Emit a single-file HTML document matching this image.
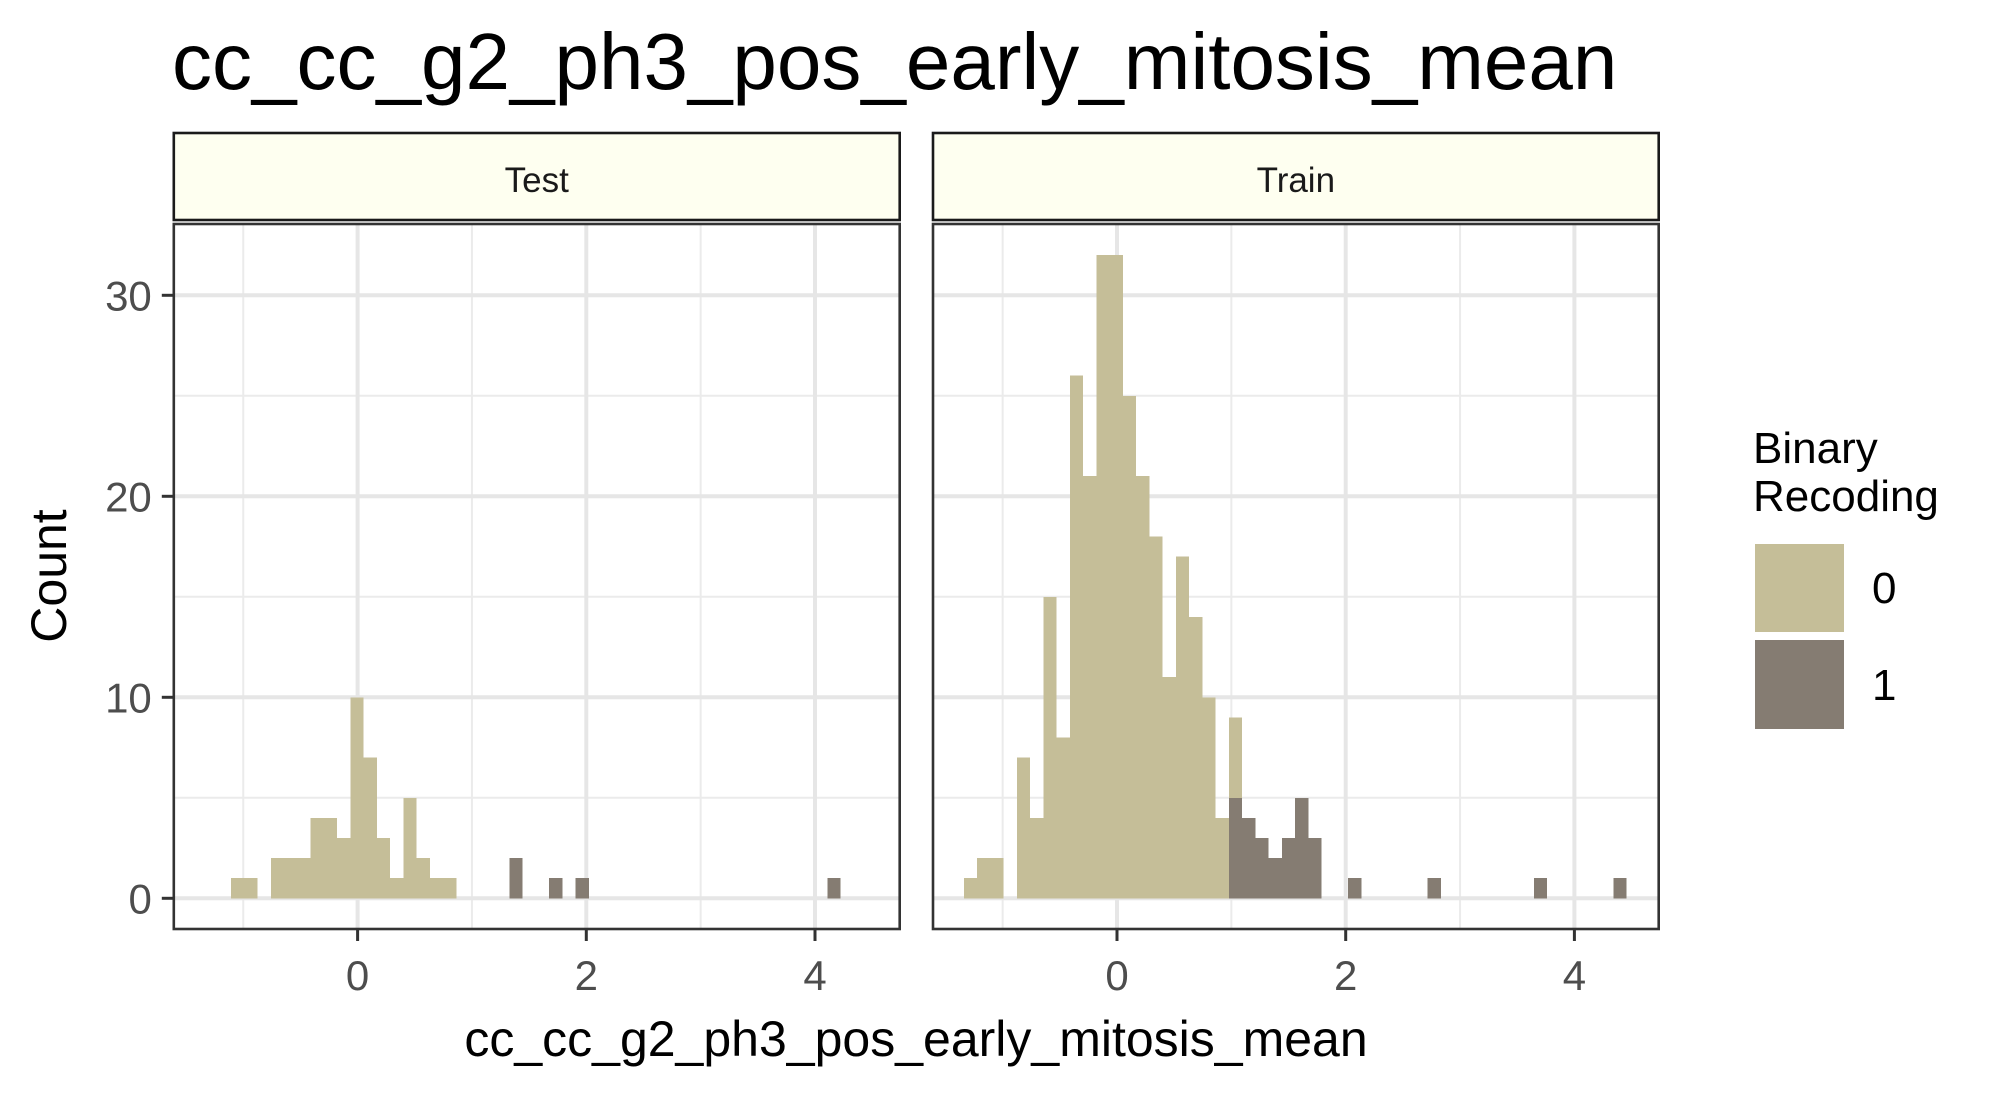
<!DOCTYPE html>
<html><head><meta charset="utf-8"><style>
html,body{margin:0;padding:0;background:#fff;}
svg{display:block;font-family:"Liberation Sans",Arial,sans-serif;}
</style></head><body>
<svg id="chart" width="2000" height="1100" viewBox="0 0 2000 1100" xmlns="http://www.w3.org/2000/svg">
<text x="172" y="89" font-size="80" fill="#000">cc_cc_g2_ph3_pos_early_mitosis_mean</text>
<g id="panels"></g>
<text x="916" y="1056" font-size="50" text-anchor="middle" fill="#000">cc_cc_g2_ph3_pos_early_mitosis_mean</text>
<text transform="translate(66,576) rotate(-90)" font-size="50" text-anchor="middle" fill="#000">Count</text>
<g>
<text x="1753" y="463" font-size="44" fill="#000">Binary</text>
<text x="1753" y="511" font-size="44" fill="#000">Recoding</text>
<rect x="1755" y="544" width="89" height="88" fill="#C5BE98"/>
<rect x="1755" y="640" width="89" height="89" fill="#857C72"/>
<text x="1872" y="603" font-size="44" fill="#000">0</text>
<text x="1872" y="700" font-size="44" fill="#000">1</text>
</g>
</svg>
<script>
const binStart = -1.339;
const binWidth = 0.1159;
const panelNames = ["Test", "Train"];
const testClass0 = [0,0,1,1,0,2,2,2,4,4,3,10,7,3,1,5,2,1,1,0,0,0,0,0,0,0,0,0,0,0,0,0,0,0,0,0,0,0,0,0,0,0,0,0,0,0,0,0,0,0];
const testClass1 = [0,0,0,0,0,0,0,0,0,0,0,0,0,0,0,0,0,0,0,0,0,0,0,2,0,0,1,0,1,0,0,0,0,0,0,0,0,0,0,0,0,0,0,0,0,0,0,1,0,0];
const trainClass0 = [1,2,2,0,7,4,15,8,26,21,32,32,25,21,18,11,17,14,10,4,4,0,0,0,0,0,0,0,0,0,0,0,0,0,0,0,0,0,0,0,0,0,0,0,0,0,0,0,0,0];
const trainClass1 = [0,0,0,0,0,0,0,0,0,0,0,0,0,0,0,0,0,0,0,0,5,4,3,2,3,5,3,0,0,1,0,0,0,0,0,1,0,0,0,0,0,0,0,1,0,0,0,0,0,1];
const xTicks = [0, 2, 4];
const xMinor = [-1, 1, 3];
const yTicks = [0, 10, 20, 30];
const yMinor = [5, 15, 25];

const NS = "http://www.w3.org/2000/svg";
const panels = [
  {left:173.8, right:899.7, x0:357.6, c0:testClass0, c1:testClass1},
  {left:933, right:1658.7, x0:1117.0, c0:trainClass0, c1:trainClass1}
];
const pTop = 224, pBottom = 929, pxPerUnit = 114.35, yZero = 898.3, pxPerCount = 20.1;
function yScale(v){ return yZero - v * pxPerCount; }
function mk(tag, attrs, parent){ const e = document.createElementNS(NS, tag); for (const k in attrs) e.setAttribute(k, attrs[k]); parent.appendChild(e); return e; }
const root = document.getElementById('panels');

panels.forEach((p, pi) => {
  const xScale = v => p.x0 + v * pxPerUnit;
  const g = mk('g', {}, root);
  
  
  const bg = mk('rect', {x:p.left, y:pTop, width:p.right-p.left, height:pBottom-pTop, fill:'#fff'}, g);
  
  
  yMinor.forEach(v => { const l = mk('line', {x1:p.left, x2:p.right, y1:yScale(v), y2:yScale(v), stroke:'#EBEBEB', 'stroke-width':2}, g);
    
     });
  xMinor.forEach(v => { const l = mk('line', {x1:xScale(v), x2:xScale(v), y1:pTop, y2:pBottom, stroke:'#EBEBEB', 'stroke-width':2}, g);
    
     });
  yTicks.forEach(v => { const l = mk('line', {x1:p.left, x2:p.right, y1:yScale(v), y2:yScale(v), stroke:'#E6E6E6', 'stroke-width':4}, g);
    
     });
  xTicks.forEach(v => { const l = mk('line', {x1:xScale(v), x2:xScale(v), y1:pTop, y2:pBottom, stroke:'#E6E6E6', 'stroke-width':4}, g);
    
     });
  for (let i = 0; i < p.c0.length; i++) {
    const xa = xScale(binStart + i * binWidth), xb = xScale(binStart + (i + 1) * binWidth);
    const a = p.c1[i], b = p.c0[i];
    if (a > 0) { const r = mk('rect', {x:xa, y:yScale(a), width:xb-xa, height:yScale(0)-yScale(a), fill:'#857C72', 'shape-rendering':'crispEdges'}, g);
      
       }
    if (b > 0) { const r = mk('rect', {x:xa, y:yScale(a+b), width:xb-xa, height:yScale(a)-yScale(a+b), fill:'#C5BE98', 'shape-rendering':'crispEdges'}, g);
      
       }
  }
  const border = mk('rect', {x:p.left, y:pTop, width:p.right-p.left, height:pBottom-pTop, fill:'none', stroke:'#333', 'stroke-width':2.6}, g);
  
  
  const strip = mk('rect', {x:p.left, y:133, width:p.right-p.left, height:87, fill:'#FEFFF0', stroke:'#1a1a1a', 'stroke-width':2.6}, g);
  
  
  const st = mk('text', {x:(p.left+p.right)/2, y:192, 'font-size':35, 'text-anchor':'middle', fill:'#1a1a1a'}, g);
  st.textContent = panelNames[pi];
  
  
  xTicks.forEach(v => {
    const t = mk('line', {x1:xScale(v), x2:xScale(v), y1:pBottom, y2:pBottom+12, stroke:'#333', 'stroke-width':3}, g);
    
    
    const lb = mk('text', {x:xScale(v), y:990, 'font-size':42, 'text-anchor':'middle', fill:'#4D4D4D'}, g);
    lb.textContent = String(v);
    
    
  });
  if (pi === 0) {
    yTicks.forEach(v => {
      const t = mk('line', {x1:p.left-12, x2:p.left, y1:yScale(v), y2:yScale(v), stroke:'#333', 'stroke-width':3}, g);
      
      
      const lb = mk('text', {x:p.left-22, y:yScale(v)+15, 'font-size':42, 'text-anchor':'end', fill:'#4D4D4D'}, g);
      lb.textContent = String(v);
      
      
    });
  }
});
</script>
</body></html>
